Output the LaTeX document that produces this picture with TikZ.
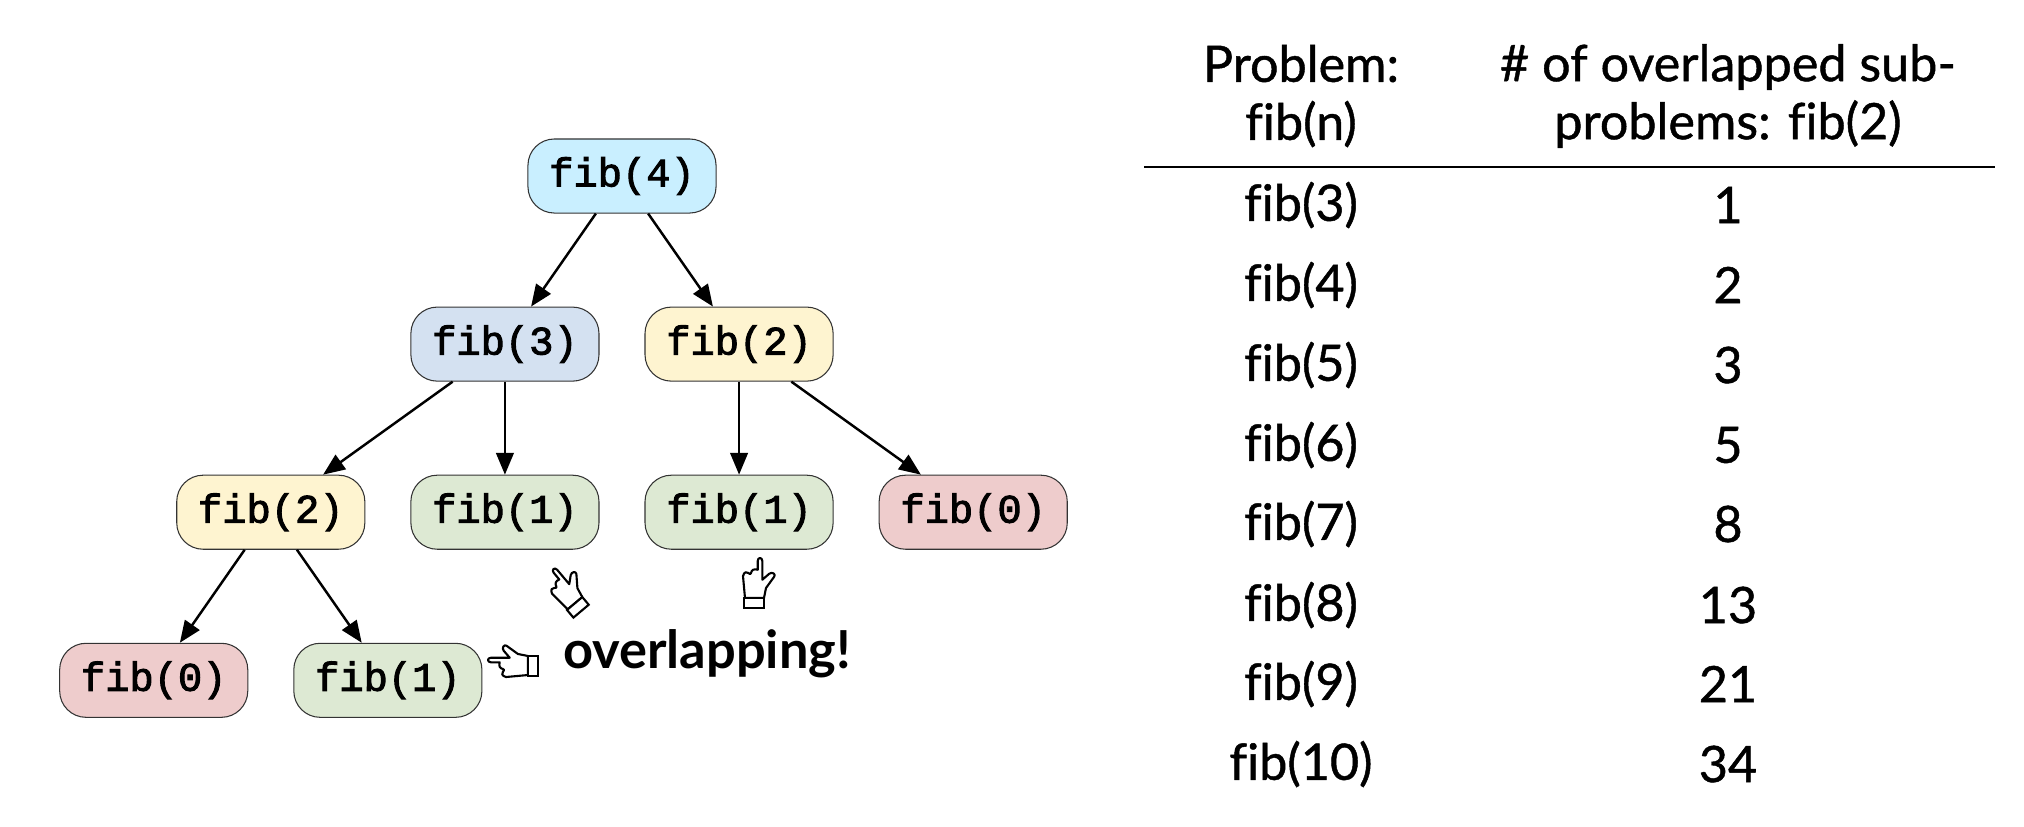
\documentclass[tikz,border=0pt]{standalone}
\usepackage{fontspec}
\usepackage{tikz}
\usetikzlibrary{arrows.meta}
\setmainfont{Lato}[RawFeature={embolden=0.9}, Ligatures=NoCommon]
\newfontfamily\shoutfont{Lato Bold}[Ligatures=NoCommon]
\newfontfamily\codefont{Liberation Mono}[RawFeature={embolden=2.4}]
\definecolor{rootfill}{HTML}{C9EFFF}
\definecolor{threefill}{HTML}{D4E1F1}
\definecolor{twofill}{HTML}{FEF4D0}
\definecolor{onefill}{HTML}{DDE9D3}
\definecolor{zerofill}{HTML}{EECCCC}
\tikzstyle{fibbox} = [rectangle, rounded corners=7.5pt, minimum width=1.88cm, minimum height=0.74cm, text centered, draw=black!80, line width=0.3pt, font=\codefont\fontsize{11.5}{13}\selectfont]
\tikzstyle{connect} = [line width=0.7pt, -{Triangle[length=6.2pt,width=5pt]}]
\tikzstyle{cell} = [font=\fontsize{14.3}{16.5}\selectfont, align=center, inner sep=0pt]
\tikzset{pics/pointer/.style={code={
	\draw [line width=0.6pt, line join=round, fill=white] (3.7,-13.3) -- (3.7,-22) .. controls (3.7,-26) and (8.3,-26) .. (8.3,-22) -- (8.3,-3.3) -- (15.3,-9.3) .. controls (18,-11.5) and (22,-9) .. (20.3,-6.5) -- (12,5) -- (10,15) -- (-9,15) -- (-11,-7) .. controls (-10,-11) and (-7,-12) .. (-5.5,-10) .. controls (-4.5,-8.5) and (-3.5,-8.5) .. (-3,-10) .. controls (-2.5,-13) and (0,-14.5) .. cycle;
	\draw [line width=0.6pt, fill=white] (-10,15) rectangle (10,25);
}}}

\begin{document}
\begin{tikzpicture}[x=0.01cm, y=-0.01cm, node distance=1.68cm]
		\useasboundingbox (0,0) rectangle (2024,826);
		\node (root) [fibbox, fill=rootfill] at (622,176) {fib(4)};
		\node (three) [fibbox, fill=threefill, below of=root, xshift=-1.17cm] {fib(3)};
		\node (two) [fibbox, fill=twofill, below of=root, xshift=1.17cm] {fib(2)};
		\node (twoleft) [fibbox, fill=twofill, below of=three, xshift=-2.34cm] {fib(2)};
		\node (onemid) [fibbox, fill=onefill, below of=three] {fib(1)};
		\node (oneright) [fibbox, fill=onefill, below of=two] {fib(1)};
		\node (zeroright) [fibbox, fill=zerofill, below of=two, xshift=2.34cm] {fib(0)};
		\node (zeroleft) [fibbox, fill=zerofill, below of=twoleft, xshift=-1.17cm] {fib(0)};
		\node (oneleft) [fibbox, fill=onefill, below of=twoleft, xshift=1.17cm] {fib(1)};

		\draw [connect] (root) -- (three);
		\draw [connect] (root) -- (two);
		\draw [connect] (three) -- (twoleft);
		\draw [connect] (three) -- (onemid);
		\draw [connect] (two) -- (oneright);
		\draw [connect] (two) -- (zeroright);
		\draw [connect] (twoleft) -- (zeroleft);
		\draw [connect] (twoleft) -- (oneleft);

		\pic (handtilt) [rotate=40] at (565,592) {pointer};
		\pic (handup) at (754,583) {pointer};
		\pic (handleft) [rotate=90] at (513,666) {pointer};
		\node (shout) [font=\shoutfont\fontsize{14.9}{16}\selectfont, inner sep=0pt] at (707,654) {overlapping!};

		\node (headleft) [cell] at (1301,96) {Problem:\\fib(n)};
		\node (headright) [cell] at (1728,96) {\# of overlapped sub-\\problems: fib(2)};
		\coordinate (ruleleft) at (1144,167);
		\coordinate (ruleright) at (1995,167);
		\draw [line width=0.8pt] (ruleleft) -- (ruleright);

		\node (nthree) [cell] at (1301,205) {fib(3)};
		\node (vthree) [cell] at (1728,205) {1};
		\node (nfour) [cell] at (1301,285) {fib(4)};
		\node (vfour) [cell] at (1728,285) {2};
		\node (nfive) [cell] at (1301,365) {fib(5)};
		\node (vfive) [cell] at (1728,365) {3};
		\node (nsix) [cell] at (1301,445) {fib(6)};
		\node (vsix) [cell] at (1728,445) {5};
		\node (nseven) [cell] at (1301,524) {fib(7)};
		\node (vseven) [cell] at (1728,524) {8};
		\node (neight) [cell] at (1301,605) {fib(8)};
		\node (veight) [cell] at (1728,605) {13};
		\node (nnine) [cell] at (1301,684) {fib(9)};
		\node (vnine) [cell] at (1728,684) {21};
		\node (nten) [cell] at (1301,764) {fib(10)};
		\node (vten) [cell] at (1728,764) {34};
\end{tikzpicture}
\end{document}
